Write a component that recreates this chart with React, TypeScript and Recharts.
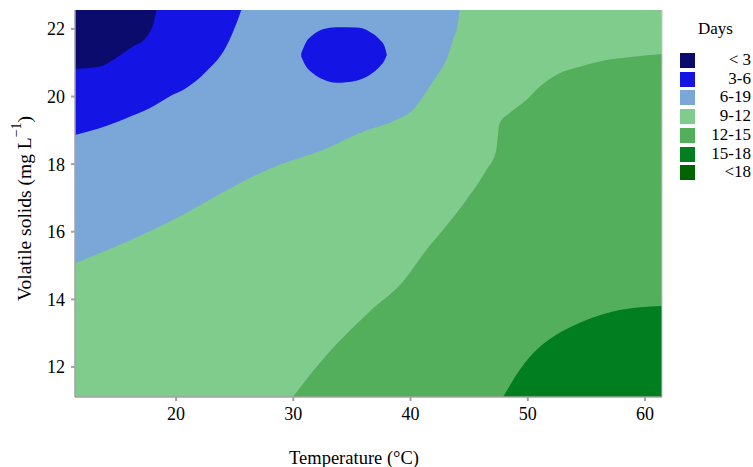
import { ComposedChart, Area, XAxis, YAxis, CartesianGrid, Legend, ReferenceLine } from 'recharts';

// plot window (data units)
const xDomain = [11.38, 61.45];
const yDomain = [11.11, 22.56];
const xTicks = [20, 30, 40, 50, 60];
const yTicks = [12, 14, 16, 18, 20, 22];

// contour boundaries
const lt3X = [11.38, 13.47, 14.75, 16.29, 17.48, 18.08, 18.33];
const lt3Y = [20.82, 20.88, 21.11, 21.47, 21.76, 22.18, 22.56];

const d36X = [11.38, 13.47, 15.75, 17.74, 19.44, 20.87, 22.57, 24.28, 25.27, 25.56];
const d36Y = [18.86, 19.06, 19.36, 19.65, 20.0, 20.25, 20.74, 21.48, 22.27, 22.56];

const d619X = [11.38, 13.47, 16.29, 20.3, 22.57, 25.99, 28.83, 32.52, 35.94, 38.79, 40.2, 41.06, 42.2, 43.05, 43.62, 44.04, 44.19];
const d619Y = [15.07, 15.36, 15.78, 16.45, 16.89, 17.54, 17.98, 18.42, 18.96, 19.31, 19.6, 20.0, 20.59, 21.08, 21.67, 22.17, 22.56];

const blobX = [30.68, 31.11, 31.67, 32.52, 33.67, 35.37, 36.51, 37.36, 37.79, 37.98];
const blobLow = [21.18, 20.88, 20.69, 20.51, 20.41, 20.47, 20.64, 20.88, 21.08, 21.23];
const blobHigh = [21.28, 21.62, 21.82, 21.99, 22.05, 22.04, 21.92, 21.69, 21.48, 21.23];

const d1215X = [29.96, 32.24, 36.51, 39.35, 41.35, 42.76, 44.76, 46.47, 47.32, 47.6, 48.45, 49.88, 51.01, 52.72, 54.43, 56.7, 58.97, 61.45];
const d1215Y = [11.11, 12.11, 13.64, 14.52, 15.46, 16.05, 16.94, 17.83, 18.42, 19.21, 19.51, 19.9, 20.29, 20.69, 20.88, 21.08, 21.18, 21.26];

const d1518X = [47.9, 49.31, 50.73, 52.44, 54.43, 56.7, 58.97, 61.45];
const d1518Y = [11.11, 11.91, 12.5, 12.95, 13.31, 13.59, 13.74, 13.8];

const legendLabels = ['< 3', '3-6', '6-19', '9-12', '12-15', '15-18', '<18'];
const legendColors = ['#0b0b6e', '#1414e4', '#7ba6d8', '#80cc8d', '#53af5b', '#017f20', '#006400'];

const FONT = '"Liberation Serif", "Times New Roman", serif';
const AXIS = '#a3a3a3';

function buildTable() {
  const rows = new Map<number, any>();
  const put = (xs: number[], key: string, vals: any[]) => {
    xs.forEach((x, i) => {
      if (!rows.has(x)) rows.set(x, { x });
      rows.get(x)[key] = vals[i];
    });
  };
  put(lt3X, 'lt3', lt3Y);
  put(d36X, 'd36', d36Y);
  put(d619X, 'd619', d619Y);
  put(blobX, 'blob', blobX.map((_, i) => [blobLow[i], blobHigh[i]]));
  put(d1215X, 'd1215', d1215Y);
  put(d1518X, 'd1518', d1518Y);
  return [...rows.values()].sort((a, b) => a.x - b.x);
}

const data = buildTable();

function YTitle({ viewBox }: any) {
  const cx = 24;
  const cy = viewBox.y + viewBox.height / 2 + 5;
  return (
    <text x={cx} y={cy} transform={`rotate(-90 ${cx} ${cy})`} textAnchor="middle" dominantBaseline="central"
      fontFamily={FONT} fontSize={19.5} fill="#000">
      Volatile solids (mg L<tspan dy={-8} fontSize={14}>−1</tspan><tspan dy={8}>)</tspan>
    </text>
  );
}

function XTitle() {
  return (
    <text x={354} y={464} textAnchor="middle" fontFamily={FONT} fontSize={18.5} fill="#000">
      Temperature (°C)
    </text>
  );
}

function DaysLegend() {
  return (
    <div style={{ position: 'relative', width: 77, height: 170, fontFamily: FONT, fontSize: 17, color: '#000' }}>
      <div style={{ position: 'absolute', left: 22, top: 5, lineHeight: '20px' }}>Days</div>
      {legendLabels.map((label, i) => (
        <div key={label} style={{ position: 'absolute', left: 0, top: 37 + i * 18.7, width: 75, height: 18, lineHeight: '18px' }}>
          <div style={{ position: 'absolute', left: 4, top: 2, width: 15, height: 15, background: legendColors[i] }} />
          <div style={{ position: 'absolute', right: 0, top: 0, textAlign: 'right' }}>{label}</div>
        </div>
      ))}
    </div>
  );
}

export default function App() {
  const tick = { fill: '#000', fontSize: 18, fontFamily: FONT };
  return (
    <div style={{ position: 'absolute', left: 0, top: 0, width: 753, height: 467, background: '#fff' }}>
      <ComposedChart width={753} height={467} data={data} margin={{ top: 10, right: 91, bottom: 0, left: 0 }}>
        <CartesianGrid fill={legendColors[3]} horizontal={false} vertical={false} />
        <Area dataKey="d619" type="monotone" baseValue="dataMax" connectNulls fill={legendColors[2]} fillOpacity={1} stroke="none" isAnimationActive={false} />
        <Area dataKey="d36" type="monotone" baseValue="dataMax" connectNulls fill={legendColors[1]} fillOpacity={1} stroke="none" isAnimationActive={false} />
        <Area dataKey="lt3" type="monotone" baseValue="dataMax" connectNulls fill={legendColors[0]} fillOpacity={1} stroke="none" isAnimationActive={false} />
        <Area dataKey="blob" type="monotone" connectNulls fill={legendColors[1]} fillOpacity={1} stroke="none" isAnimationActive={false} />
        <Area dataKey="d1215" type="monotone" connectNulls fill={legendColors[4]} fillOpacity={1} stroke="none" isAnimationActive={false} />
        <Area dataKey="d1518" type="monotone" connectNulls fill={legendColors[5]} fillOpacity={1} stroke="none" isAnimationActive={false} />
        <ReferenceLine x={xDomain[1]} stroke="#c8c8c8" strokeWidth={1} />
        <XAxis
          dataKey="x"
          type="number"
          domain={xDomain}
          allowDataOverflow
          ticks={xTicks}
          height={70}
          tick={tick}
          tickSize={4}
          tickMargin={6}
          axisLine={{ stroke: AXIS, strokeWidth: 1.5 }}
          tickLine={{ stroke: AXIS, strokeWidth: 2 }}
          label={{ content: XTitle }}
        />
        <YAxis
          type="number"
          domain={yDomain}
          allowDataOverflow
          ticks={yTicks}
          width={75}
          tick={tick}
          tickSize={4}
          tickMargin={6}
          axisLine={{ stroke: AXIS, strokeWidth: 1.5 }}
          tickLine={{ stroke: AXIS, strokeWidth: 2 }}
          label={{ content: YTitle }}
        />
        <Legend
          layout="vertical"
          align="center"
          verticalAlign="middle"
          content={DaysLegend}
          wrapperStyle={{ left: 676, top: 14, width: 77, height: 170 }}
        />
      </ComposedChart>
    </div>
  );
}
